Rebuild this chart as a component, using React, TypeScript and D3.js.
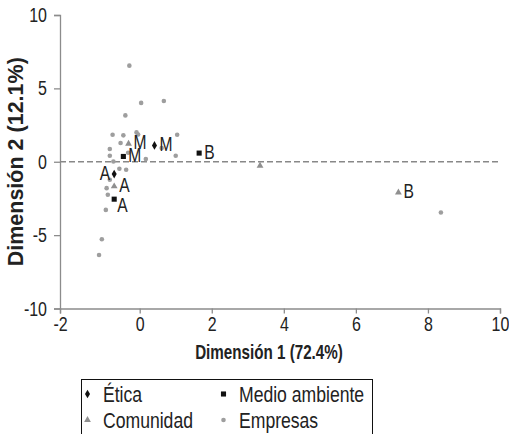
import React, { useEffect, useRef } from "react";
import * as d3 from "d3";

// ---- data ----
const xTicks = [-2, 0, 2, 4, 6, 8, 10];
const yTicks = [-10, -5, 0, 5, 10];

const empresasX = [-0.26, 0.04, 0.67, -0.36, -0.68, -0.41, -0.08, -0.04, 1.04, -0.48, -0.75, -0.75, -0.66, 0.17, 1.0, 0.61, -0.29, -0.51, -0.34, -0.75, -0.83, -0.8, -0.85, -0.95, -1.02, 8.36];
const empresasY = [6.55, 4.01, 4.14, 3.16, 1.84, 1.8, 2.0, 1.86, 1.84, 1.28, 0.87, 0.41, 0.02, 0.18, 0.41, 0.94, 0.61, -0.48, -0.55, -1.23, -1.8, -2.25, -3.28, -5.28, -6.35, -3.46];

const eticaX = [-0.64, 0.41];
const eticaY = [-0.84, 1.11];
const eticaLab = ["A", "M"];

const medioX = [-0.64, -0.41, 1.65];
const medioY = [-2.55, 0.36, 0.59];
const medioLab = ["A", "M", "B"];

const comunidadX = [-0.64, -0.28, 3.34, 7.18];
const comunidadY = [-1.68, 1.23, -0.27, -2.09];
const comunidadLab = ["A", "M", "", "B"];

// label side per point (style)
const eticaSide = ["left", "right"];
const medioSide = ["below", "right", "right"];
const comunidadSide = ["right", "right", "right", "right"];

const legendNames = ["Ética", "Medio ambiente", "Comunidad", "Empresas"];

const FONT = "'Liberation Sans', Arial, sans-serif";

const W = 509, H = 434;

export default function App() {
  const ref = useRef<SVGSVGElement>(null);

  useEffect(() => {
    const svg = d3.select(ref.current);
    svg.selectAll("*").remove();

    const x = d3.scaleLinear().domain([-2, 0, 10]).range([60, 139.7, 500]);
    const y = d3.scaleLinear().domain([-10, 10]).range([308.5, 15]);

    const axisColor = "#8c8c8c";
    const TSX = 0.78; // condensing of tick labels

    const narrow = (
      g: any, px: number, py: number, txt: string,
      size: number, sx: number, anchor = "start", weight = "normal", dy = "0"
    ) =>
      g.append("text")
        .attr("transform", `translate(${px},${py}) scale(${sx},1)`)
        .attr("text-anchor", anchor)
        .attr("dy", dy)
        .attr("font-family", FONT).attr("font-size", size).attr("font-weight", weight)
        .attr("fill", "#222")
        .text(txt);

    // y axis
    const gy = svg.append("g").attr("transform", `translate(${x(-2)},0)`)
      .call(d3.axisLeft(y).tickValues(yTicks).tickSize(6).tickPadding(7).tickFormat((d: any) => String(d)));
    gy.select(".domain").attr("stroke", axisColor).attr("stroke-width", 1.3);
    gy.selectAll(".tick line").attr("stroke", axisColor).attr("stroke-width", 1.3);
    gy.selectAll(".tick text")
      .attr("fill", "#222").attr("font-family", FONT).attr("font-size", 20.5)
      .attr("x", -13 / TSX).attr("transform", `scale(${TSX},1)`);

    // x axis
    const gx = svg.append("g").attr("transform", `translate(0,${y(-10)})`)
      .call(d3.axisBottom(x).tickValues(xTicks).tickSize(5).tickPadding(3).tickFormat((d: any) => String(d)));
    gx.select(".domain").attr("stroke", axisColor).attr("stroke-width", 1.3);
    gx.selectAll(".tick line").attr("stroke", axisColor).attr("stroke-width", 1.3);
    gx.selectAll(".tick text")
      .attr("fill", "#222").attr("font-family", FONT).attr("font-size", 20.5)
      .attr("transform", `scale(${TSX},1)`);

    // dashed zero line
    svg.append("line")
      .attr("x1", x(-2)).attr("x2", x(10))
      .attr("y1", y(0)).attr("y2", y(0))
      .attr("stroke", "#888").attr("stroke-width", 1.4).attr("stroke-dasharray", "6,3");

    // axis titles
    narrow(svg, 269, 359, "Dimensión 1 (72.4%)", 20, 0.76, "middle", "bold");
    svg.append("text")
      .attr("transform", `translate(23,${y(0)}) rotate(-90)`)
      .attr("text-anchor", "middle")
      .attr("font-family", FONT).attr("font-weight", "bold").attr("font-size", 21.5)
      .attr("fill", "#222")
      .text("Dimensión 2 (12.1%)");

    const plot = svg.append("g");

    // Empresas
    plot.selectAll("circle.emp").data(empresasX.map((v, i) => [v, empresasY[i]]))
      .join("circle").attr("class", "emp")
      .attr("cx", (d) => x(d[0])).attr("cy", (d) => y(d[1]))
      .attr("r", 2.3).attr("fill", "#9e9e9e");

    const diamond = d3.symbol().type(d3.symbolDiamond).size(22);
    const square = d3.symbol().type(d3.symbolSquare).size(26);
    const tri = d3.symbol().type(d3.symbolTriangle).size(20);

    plot.selectAll("path.com").data(comunidadX.map((v, i) => [v, comunidadY[i]]))
      .join("path").attr("class", "com")
      .attr("d", tri as any)
      .attr("transform", (d) => `translate(${x(d[0])},${y(d[1])})`)
      .attr("fill", "#8f8f8f");

    plot.selectAll("path.eti").data(eticaX.map((v, i) => [v, eticaY[i]]))
      .join("path").attr("class", "eti")
      .attr("d", diamond as any)
      .attr("transform", (d) => `translate(${x(d[0])},${y(d[1])})`)
      .attr("fill", "#111");

    plot.selectAll("path.med").data(medioX.map((v, i) => [v, medioY[i]]))
      .join("path").attr("class", "med")
      .attr("d", square as any)
      .attr("transform", (d) => `translate(${x(d[0])},${y(d[1])})`)
      .attr("fill", "#111");

    // data labels
    const addLabels = (xs: number[], ys: number[], labs: string[], sides: string[]) => {
      xs.forEach((v, i) => {
        if (!labs[i]) return;
        const px = x(v), py = y(ys[i]);
        const side = sides[i];
        if (side === "left") narrow(svg, px - 4, py - 1, labs[i], 20, 0.78, "end", "normal", "0.36em");
        else if (side === "below") narrow(svg, px + 3, py + 6, labs[i], 20, 0.78, "start", "normal", "0.36em");
        else narrow(svg, px + 5, py - 1.5, labs[i], 20, 0.78, "start", "normal", "0.36em");
      });
    };
    addLabels(eticaX, eticaY, eticaLab, eticaSide);
    addLabels(medioX, medioY, medioLab, medioSide);
    addLabels(comunidadX, comunidadY, comunidadLab, comunidadSide);

    // legend
    const lg = svg.append("g");
    lg.append("rect").attr("x", 81.5).attr("y", 379.5).attr("width", 291).attr("height", 80)
      .attr("fill", "white").attr("stroke", "#111").attr("stroke-width", 1);
    const items = [
      { sym: diamond, fill: "#111", cx: 87.5, cy: 394 },
      { sym: square, fill: "#111", cx: 223.5, cy: 394 },
      { sym: tri, fill: "#8f8f8f", cx: 87.5, cy: 420 },
      { sym: null, fill: "#9e9e9e", cx: 223.5, cy: 420 },
    ];
    items.forEach((it, i) => {
      if (it.sym) {
        lg.append("path").attr("d", (it.sym as any)()).attr("transform", `translate(${it.cx},${it.cy})`).attr("fill", it.fill);
      } else {
        lg.append("circle").attr("cx", it.cx).attr("cy", it.cy).attr("r", 2.3).attr("fill", it.fill);
      }
      narrow(lg, it.cx + 15.5, it.cy + 7.5, legendNames[i], 22, 0.8);
    });
  }, []);

  return (
    <svg ref={ref} width={W} height={H} style={{ position: "absolute", left: 0, top: 0, background: "white" }} />
  );
}
